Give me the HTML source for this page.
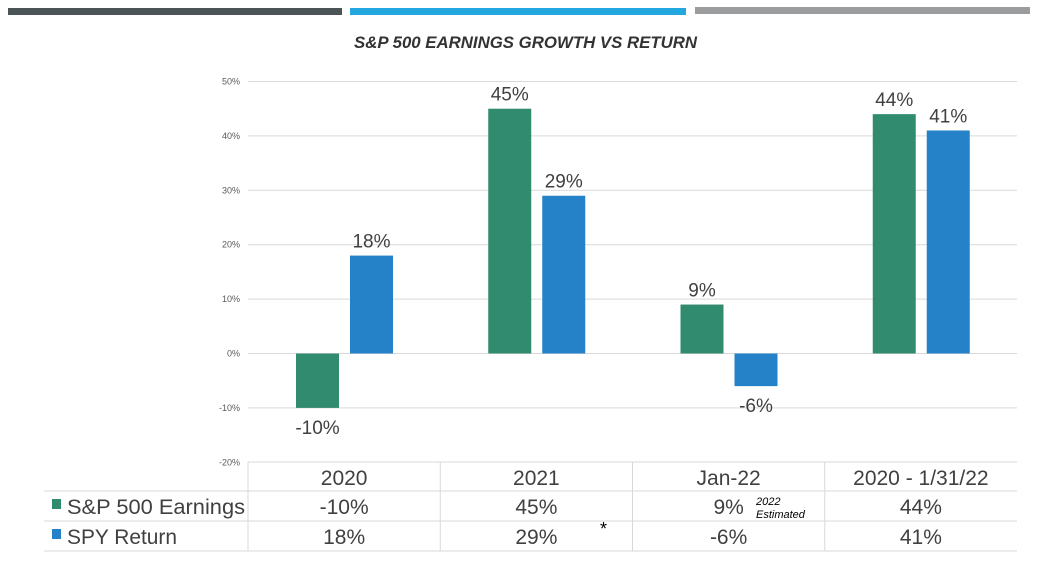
<!DOCTYPE html>
<html><head><meta charset="utf-8">
<style>
body{margin:0;background:#fff;width:1053px;height:570px;overflow:hidden;font-family:"Liberation Sans Narrow","Liberation Sans",sans-serif;}
</style></head><body>
<svg id="c" width="1053" height="570" xmlns="http://www.w3.org/2000/svg">
<rect x="8" y="8" width="334" height="7" fill="#4a5355"/>
<rect x="350" y="8" width="336" height="7" fill="#22a8de"/>
<rect x="695" y="7" width="335" height="7" fill="#9a9c9e"/>
<text x="354" y="48" textLength="343" lengthAdjust="spacingAndGlyphs" font-size="17" font-weight="bold" font-style="italic" fill="#333">S&amp;P 500 EARNINGS GROWTH VS RETURN</text>
<g id="grid"></g><g id="bars"></g><g id="tbl"></g>
</svg>
<script>
const categories=["2020","2021","Jan-22","2020 - 1/31/22"];
const earnings=[-10,45,9,44];
const spy=[18,29,-6,41];
const ticks=[50,40,30,20,10,0,-10,-20];
const NS="http://www.w3.org/2000/svg";
const L=248,R=1017,cw=(R-L)/categories.length;
function y(v){return 353.5-v*5.44;}
function mk(t,a,p,txt){const e=document.createElementNS(NS,t);for(const k in a)e.setAttribute(k,a[k]);if(txt!==undefined)e.textContent=txt;p.appendChild(e);return e;}
const g=document.getElementById('grid'),b=document.getElementById('bars'),tb=document.getElementById('tbl');
ticks.forEach(t=>{
 if(t>-20){const l=mk('line',{x1:L,x2:R,y1:y(t),y2:y(t),stroke:'#d9d9d9','stroke-width':1},g);
 
 }
 const tx=mk('text',{x:240,y:y(t)+3,'text-anchor':'end','font-size':9,fill:'#595959','font-family':'Liberation Sans'},g,t+'%');
 
 
});
function bar(v,x,col,i,name){
 const top=Math.min(y(v),y(0)),h=Math.abs(y(v)-y(0));
 const r=mk('rect',{x:x,y:top,width:43,height:h,fill:col},b);
 
 
 const ly=v>=0?y(v)-8:y(v)+26;
 const t=mk('text',{x:x+21.5,y:ly,'text-anchor':'middle','font-size':19,fill:'#404040','font-family':'Liberation Sans'},b,v+'%');
 
 
}
categories.forEach((c,i)=>{
 const x0=L+i*cw;
 bar(earnings[i],x0+48,'#318b6f',i,'earnings');
 bar(spy[i],x0+102,'#2582c8',i,'spy');
});
[[L,R,462],[44,R,491],[44,R,521],[44,R,551]].forEach(a=>{const l=mk('line',{x1:a[0],x2:a[1],y1:a[2],y2:a[2],stroke:'#d9d9d9'},tb);
 
 });
for(let i=0;i<categories.length;i++){const l=mk('line',{x1:L+i*cw,x2:L+i*cw,y1:462,y2:551,stroke:'#d9d9d9'},tb);
 
 }
const ts={'text-anchor':'middle','font-size':21,fill:'#404040'};
categories.forEach((c,i)=>{
 const cx=L+i*cw+cw/2;
 const h=mk('text',Object.assign({x:cx,y:485},ts),tb,c);
 
 
 const e=mk('text',Object.assign({x:cx,y:514},ts),tb,earnings[i]+'%');
 
 
 const s=mk('text',Object.assign({x:cx,y:544},ts),tb,spy[i]+'%');
 
 
});
const k1=mk('rect',{x:52,y:499,width:9,height:10,fill:'#318b6f'},tb);


const t1=mk('text',{x:67,y:514,'font-size':21,fill:'#404040',textLength:178,lengthAdjust:'spacingAndGlyphs'},tb,'S&P 500 Earnings');


const k2=mk('rect',{x:52,y:529,width:9,height:10,fill:'#2582c8'},tb);


const t2=mk('text',{x:67,y:544,'font-size':21,fill:'#404040',textLength:110,lengthAdjust:'spacingAndGlyphs'},tb,'SPY Return');


const n1=mk('text',{x:756,y:505,'font-size':11,'font-style':'italic',fill:'#000'},tb,'2022');


const n2=mk('text',{x:756,y:518,'font-size':11,'font-style':'italic',fill:'#000'},tb,'Estimated');


const as=mk('text',{x:600,y:535,'font-size':18,fill:'#000'},tb,'*');


</script>
</body></html>
